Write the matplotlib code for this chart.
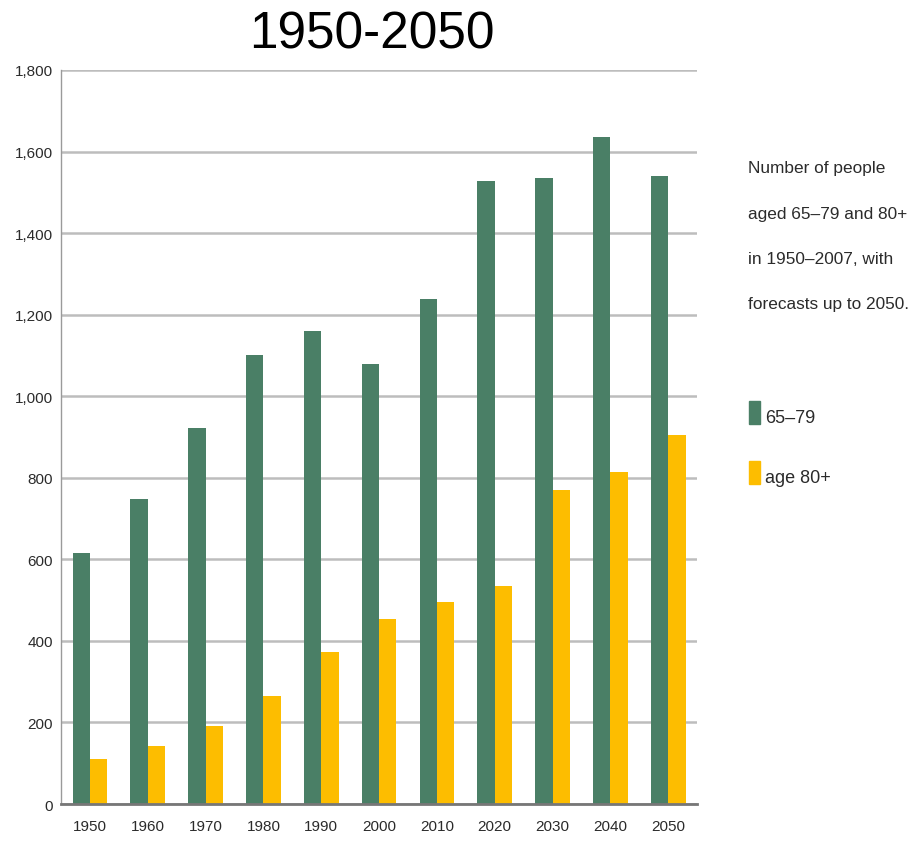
import numpy as np
import matplotlib
matplotlib.use("Agg")
import matplotlib.pyplot as plt
from matplotlib.patches import Rectangle

# Werte
years = ["1950", "1960", "1970", "1980", "1990", "2000", "2010", "2020", "2030", "2040", "2050"]
age_65_79 = [615, 748, 922, 1100, 1160, 1078, 1238, 1528, 1536, 1636, 1540]
age_80 = [110, 143, 192, 266, 374, 454, 496, 534, 770, 814, 904]
yticks = [0, 200, 400, 600, 800, 1000, 1200, 1400, 1600, 1800]

note_lines = ["Number of people", "aged 65\u201379 and 80+", "in 1950\u20132007, with", "forecasts up to 2050."]
labels = ["65\u201379", "age 80+"]

green = "#4a7f66"
yellow = "#fdbd00"
txt = "#2b2b2b"
font = "Liberation Sans"

fig = plt.figure(figsize=(9.16, 8.45), dpi=100)
ax = fig.add_axes([0.0666, 0.0473, 0.6944, 0.8687])

x = np.arange(len(years))
w = 0.3
ax.bar(x - w / 2, age_65_79, width=w, color=green, zorder=3)
ax.bar(x + w / 2, age_80, width=w, color=yellow, zorder=3)

ax.set_xlim(-0.5, 10.5)
ax.set_ylim(0, 1800)
ax.set_yticks(yticks)
ax.set_yticklabels([f"{v:,}" for v in yticks], family=font, fontsize=11, color=txt)
ax.set_xticks(x)
ax.set_xticklabels(years, family=font, fontsize=11, color=txt)
ax.tick_params(length=0)
ax.tick_params(axis="y", pad=6)
ax.tick_params(axis="x", pad=11)
ax.yaxis.grid(True, color="#bdbdbd", lw=1.8, zorder=0)

for s in ["top", "right"]:
    ax.spines[s].set_visible(False)
ax.spines["left"].set_color("#9a9a9a")
ax.spines["left"].set_linewidth(1)
ax.spines["bottom"].set_color("#777777")
ax.spines["bottom"].set_linewidth(2)
ax.spines["bottom"].set_zorder(4)

fig.text(0.406, 0.958, "1950-2050", ha="center", va="center",
         family=font, fontsize=37, color="black")

# Beschreibung rechts, Zeile fuer Zeile
for i, line in enumerate(note_lines):
    fig.text(0.8166, 1 - (173 + 45.5 * i) / 845, line, ha="left", va="baseline",
             family=font, fontsize=12.4, color=txt)

# Legende von Hand
colors = [green, yellow]
ys = [0.511, 0.440]
for lab, c, yy in zip(labels, colors, ys):
    fig.patches.append(Rectangle((0.8177, yy - 0.0136), 0.012, 0.0272, color=c,
                                 transform=fig.transFigure))
    fig.text(0.835, yy - 0.012, lab, ha="left", va="baseline", family=font, fontsize=13, color=txt)

fig.savefig("out.png", dpi=100)
